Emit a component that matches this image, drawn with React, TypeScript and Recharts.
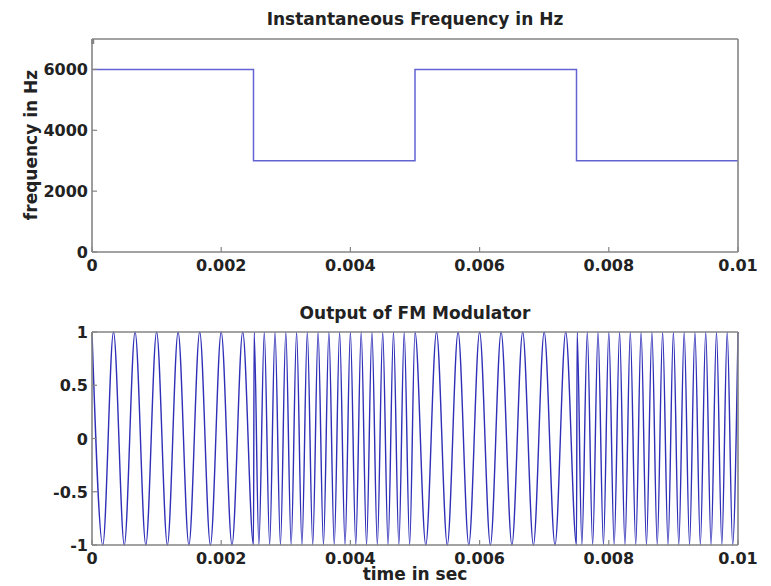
import React from 'react';
import { LineChart, Line, XAxis, YAxis } from 'recharts';

// axis ticks
const timeTicks = [0, 0.002, 0.004, 0.006, 0.008, 0.01];
const freqTicks = [0, 2000, 4000, 6000];
const ampTicks = [-1, -0.5, 0, 0.5, 1];

// top plot: instantaneous frequency (step)
const freqTimes = [0, 0.0025, 0.005, 0.0075, 0.01];
const freqValues = [6000, 3000, 6000, 3000, 3000];

// bottom plot: peaks / troughs of the FM output, read per segment
const seg1Times = [0, 0.000167, 0.000333, 0.0005, 0.000667, 0.000833, 0.001, 0.001167, 0.001333, 0.0015, 0.001667, 0.001833, 0.002, 0.002167, 0.002333, 0.0025];
const seg1Values = [1, -1, 1, -1, 1, -1, 1, -1, 1, -1, 1, -1, 1, -1, 1, -1];

const seg2Times = [0.00251, 0.002583, 0.002667, 0.00275, 0.002833, 0.002917, 0.003, 0.003083, 0.003167, 0.00325, 0.003333, 0.003417, 0.0035, 0.003583, 0.003667, 0.00375, 0.003833, 0.003917, 0.004, 0.004083, 0.004167, 0.00425, 0.004333, 0.004417, 0.0045, 0.004583, 0.004667, 0.00475, 0.004833, 0.004917, 0.005];
const seg2Values = [1, -1, 1, -1, 1, -1, 1, -1, 1, -1, 1, -1, 1, -1, 1, -1, 1, -1, 1, -1, 1, -1, 1, -1, 1, -1, 1, -1, 1, -1, 1];

const seg3Times = [0.005167, 0.005333, 0.0055, 0.005667, 0.005833, 0.006, 0.006167, 0.006333, 0.0065, 0.006667, 0.006833, 0.007, 0.007167, 0.007333, 0.0075];
const seg3Values = [-1, 1, -1, 1, -1, 1, -1, 1, -1, 1, -1, 1, -1, 1, -1];

const seg4Times = [0.00751, 0.007583, 0.007667, 0.00775, 0.007833, 0.007917, 0.008, 0.008083, 0.008167, 0.00825, 0.008333, 0.008417, 0.0085, 0.008583, 0.008667, 0.00875, 0.008833, 0.008917, 0.009, 0.009083, 0.009167, 0.00925, 0.009333, 0.009417, 0.0095, 0.009583, 0.009667, 0.00975, 0.009833, 0.009917, 0.01];
const seg4Values = [1, -1, 1, -1, 1, -1, 1, -1, 1, -1, 1, -1, 1, -1, 1, -1, 1, -1, 1, -1, 1, -1, 1, -1, 1, -1, 1, -1, 1, -1, 1];

const freqData = freqTimes.map((t, i) => ({ t, v: freqValues[i] }));
const fmData = [
  ...seg1Times.map((t, i) => ({ t, v: seg1Values[i] })),
  ...seg2Times.map((t, i) => ({ t, v: seg2Values[i] })),
  ...seg3Times.map((t, i) => ({ t, v: seg3Values[i] })),
  ...seg4Times.map((t, i) => ({ t, v: seg4Values[i] })),
];

const FONT = '"DejaVu Sans", Verdana, sans-serif';
const FRAME = '#858585';
const TICK_LEN = 5;

// matlab-style tick: line pointing into the plot, label outside
const FrameTick = (props: any) => {
  const { x, y, payload, side, label } = props;
  const txt = String(payload.value);
  const textProps = { fontFamily: FONT, fontSize: 16, fontWeight: 'bold' as const, fill: '#222' };
  if (side === 'bottom') {
    return (
      <g>
        <line x1={x} y1={y} x2={x} y2={y - TICK_LEN} stroke={FRAME} strokeWidth={1.2} />
        {label && <text x={x} y={y + 19} textAnchor="middle" {...textProps}>{txt}</text>}
      </g>
    );
  }
  if (side === 'top') {
    return <line x1={x} y1={y} x2={x} y2={y + TICK_LEN} stroke={FRAME} strokeWidth={1.2} />;
  }
  if (side === 'left') {
    return (
      <g>
        <line x1={x} y1={y} x2={x + TICK_LEN} y2={y} stroke={FRAME} strokeWidth={1.2} />
        {label && <text x={x - 4} y={y + 6} textAnchor="end" {...textProps}>{txt}</text>}
      </g>
    );
  }
  return <line x1={x} y1={y} x2={x - TICK_LEN} y2={y} stroke={FRAME} strokeWidth={1.2} />;
};

const axisLine = { stroke: FRAME, strokeWidth: 1.6 };

const textStyle: React.CSSProperties = {
  position: 'absolute',
  fontFamily: FONT,
  fontSize: 17,
  fontWeight: 'bold',
  color: '#222',
  whiteSpace: 'nowrap',
  transform: 'translate(-50%, -50%)',
};

export default function App() {
  return (
    <div style={{ position: 'absolute', left: 0, top: 0, width: 771, height: 586, background: '#fff', overflow: 'hidden' }}>
      <div style={{ ...textStyle, left: 415, top: 19 }}>Instantaneous Frequency in Hz</div>
      <div style={{ ...textStyle, left: 31, top: 145, transform: 'translate(-50%, -50%) rotate(-90deg)' }}>frequency in Hz</div>
      <div style={{ ...textStyle, left: 415, top: 313 }}>Output of FM Modulator</div>
      <div style={{ ...textStyle, left: 415, top: 574 }}>time in sec</div>

      <div style={{ position: 'absolute', left: 0, top: 0 }}>
        <LineChart width={771} height={290} data={freqData} margin={{ top: 38, right: 32, bottom: 8, left: 0 }}>
          <XAxis xAxisId="b" dataKey="t" type="number" domain={[0, 0.01]} ticks={timeTicks} interval={0}
            height={30} tickSize={0} tickMargin={0} tickLine={false} axisLine={axisLine}
            tick={<FrameTick side="bottom" label />} />
          <XAxis xAxisId="t" orientation="top" type="number" domain={[0, 0.01]} ticks={timeTicks} interval={0}
            height={1} tickSize={0} tickMargin={0} tickLine={false} axisLine={axisLine}
            tick={<FrameTick side="top" />} />
          <YAxis yAxisId="l" type="number" domain={[0, 7000]} ticks={freqTicks} interval={0}
            width={92} tickSize={0} tickMargin={0} tickLine={false} axisLine={axisLine}
            tick={<FrameTick side="left" label />} />
          <YAxis yAxisId="r" orientation="right" type="number" domain={[0, 7000]} ticks={freqTicks} interval={0}
            width={1} tickSize={0} tickMargin={0} tickLine={false} axisLine={axisLine}
            tick={<FrameTick side="right" />} />
          <Line xAxisId="b" yAxisId="l" type="stepAfter" dataKey="v" stroke="#6363d2" strokeWidth={1.5}
            dot={false} isAnimationActive={false} />
        </LineChart>
      </div>

      <div style={{ position: 'absolute', left: 0, top: 290 }}>
        <LineChart width={771} height={296} data={fmData} margin={{ top: 41, right: 32, bottom: 11, left: 0 }}>
          <XAxis xAxisId="b" dataKey="t" type="number" domain={[0, 0.01]} ticks={timeTicks} interval={0}
            height={30} tickSize={0} tickMargin={0} tickLine={false} axisLine={axisLine}
            tick={<FrameTick side="bottom" label />} />
          <XAxis xAxisId="t" orientation="top" type="number" domain={[0, 0.01]} ticks={timeTicks} interval={0}
            height={1} tickSize={0} tickMargin={0} tickLine={false} axisLine={axisLine}
            tick={<FrameTick side="top" />} />
          <YAxis yAxisId="l" type="number" domain={[-1, 1]} ticks={ampTicks} interval={0}
            width={92} tickSize={0} tickMargin={0} tickLine={false} axisLine={axisLine}
            tick={<FrameTick side="left" label />} />
          <YAxis yAxisId="r" orientation="right" type="number" domain={[-1, 1]} ticks={ampTicks} interval={0}
            width={1} tickSize={0} tickMargin={0} tickLine={false} axisLine={axisLine}
            tick={<FrameTick side="right" />} />
          <Line xAxisId="b" yAxisId="l" type="monotone" dataKey="v" stroke="#2f2fb8" strokeWidth={1.4}
            dot={false} isAnimationActive={false} />
        </LineChart>
      </div>
    </div>
  );
}
